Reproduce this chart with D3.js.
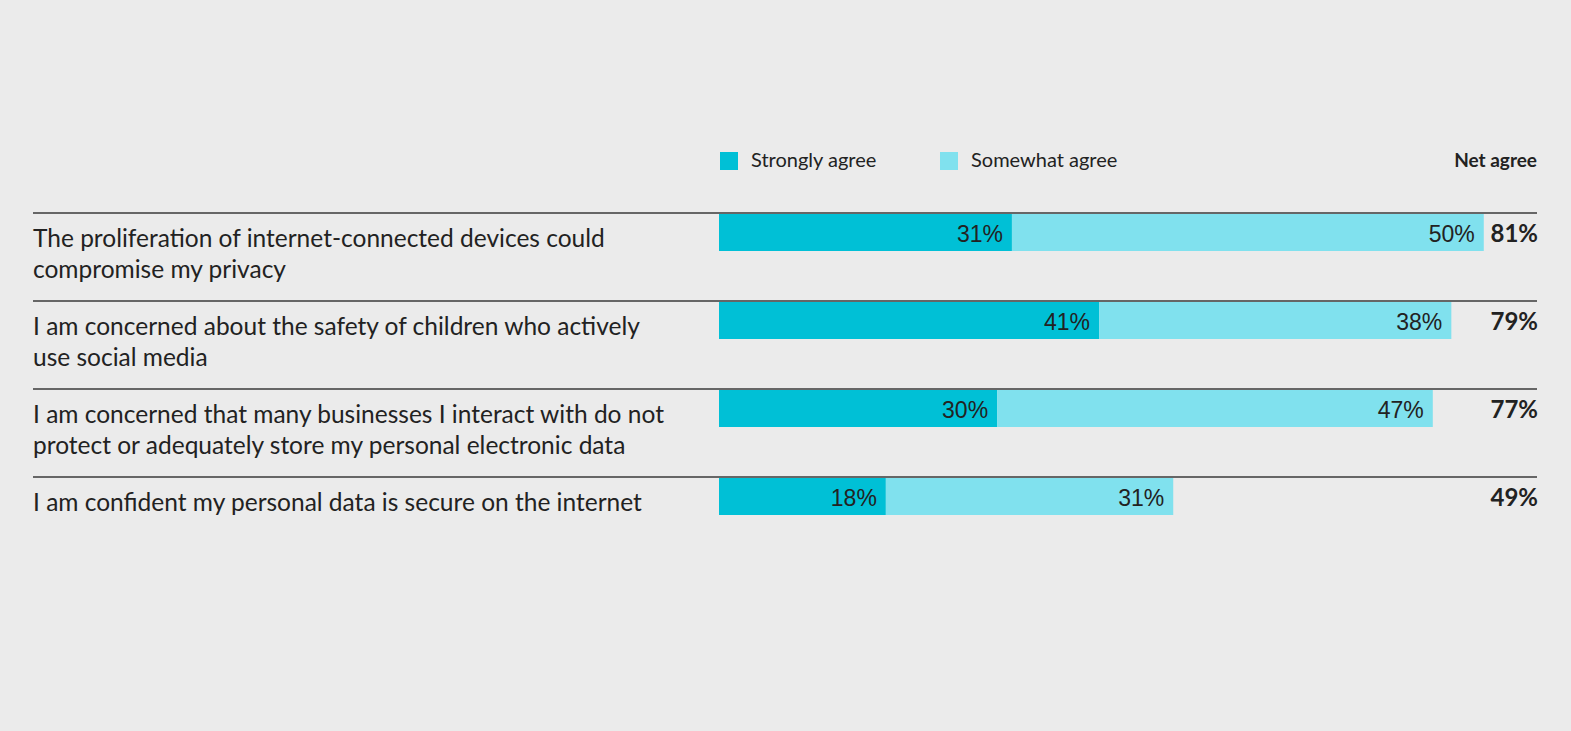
<!DOCTYPE html>
<html>
<head>
<meta charset="utf-8">
<script src="https://cdn.jsdelivr.net/npm/d3@7"></script>
<style>
  body { margin: 0; background: #ebebeb; }
  svg { display: block; }
</style>
</head>
<body>
<svg id="chart" width="1571" height="731"></svg>
<script>
const categories = [
  ["The proliferation of internet-connected devices could", "compromise my privacy"],
  ["I am concerned about the safety of children who actively", "use social media"],
  ["I am concerned that many businesses I interact with do not", "protect or adequately store my personal electronic data"],
  ["I am confident my personal data is secure on the internet"]
];
const strongly = [31.6, 41, 30, 18];
const somewhat = [50.9, 38, 47, 31];
const stronglyLabels = ["31%", "41%", "30%", "18%"];
const somewhatLabels = ["50%", "38%", "47%", "31%"];
const netAgree = ["81%", "79%", "77%", "49%"];
const series = ["Strongly agree", "Somewhat agree"];

const COLORS = ["#00c0d6", "#80e1ee"];
const svg = d3.select("#chart");

const x = d3.scaleLinear().domain([0, 100]).range([719, 1646]);
const y = d3.scaleBand().domain(d3.range(categories.length)).range([213, 565]).paddingInner(0);

const labelFont = "Lato, 'Open Sans', sans-serif";
const valFont = "'Liberation Sans', Arial, sans-serif";

// legend
const legend = svg.append("g");
[720, 940].forEach((lx, i) => {
  legend.append("rect").attr("x", lx).attr("y", 152).attr("width", 18).attr("height", 18)
    .attr("fill", COLORS[i]);
  legend.append("text").attr("x", lx + 31).attr("y", 167)
    .attr("font-family", labelFont).attr("font-size", 20)
    .attr("fill", "#222").text(series[i]);
});
legend.append("text").attr("x", 1537).attr("y", 167).attr("text-anchor", "end")
  .attr("font-family", labelFont).attr("font-size", 19)
  .attr("font-weight", "bold").attr("fill", "#222").text("Net agree");

const rows = svg.selectAll("g.row").data(categories).enter().append("g")
  .attr("class", "row")
  .attr("transform", (d, i) => `translate(0,${y(i)})`);

rows.append("line").attr("x1", 33).attr("x2", 1537).attr("y1", 0).attr("y2", 0)
  .attr("stroke", "#3a3a3a").attr("stroke-width", 1.5);

rows.append("text")
  .attr("font-family", labelFont).attr("font-size", 24.5)
  .attr("fill", "#222")
  .selectAll("tspan").data(d => d).enter().append("tspan")
  .attr("x", 33).attr("y", (d, j) => 34 + j * 31).text(d => d);

// strongly agree segment
rows.append("rect")
  .attr("x", x(0)).attr("y", 1)
  .attr("width", (d, i) => x(strongly[i]) - x(0)).attr("height", 37)
  .attr("fill", COLORS[0]);

// somewhat agree segment
rows.append("rect")
  .attr("x", (d, i) => x(strongly[i])).attr("y", 1)
  .attr("width", (d, i) => x(strongly[i] + somewhat[i]) - x(strongly[i])).attr("height", 37)
  .attr("fill", COLORS[1]);

rows.append("text").attr("x", (d, i) => x(strongly[i]) - 9).attr("y", 29)
  .attr("text-anchor", "end").attr("font-family", valFont).attr("font-size", 23)
  .attr("fill", "#222").text((d, i) => stronglyLabels[i]);

rows.append("text").attr("x", (d, i) => x(strongly[i] + somewhat[i]) - 9).attr("y", 29)
  .attr("text-anchor", "end").attr("font-family", valFont).attr("font-size", 23)
  .attr("fill", "#222").text((d, i) => somewhatLabels[i]);

rows.append("text").attr("x", 1538).attr("y", 29).attr("text-anchor", "end")
  .attr("font-family", labelFont).attr("font-size", 24)
  .attr("font-weight", "bold").attr("fill", "#222").text((d, i) => netAgree[i]);
</script>
</body>
</html>
